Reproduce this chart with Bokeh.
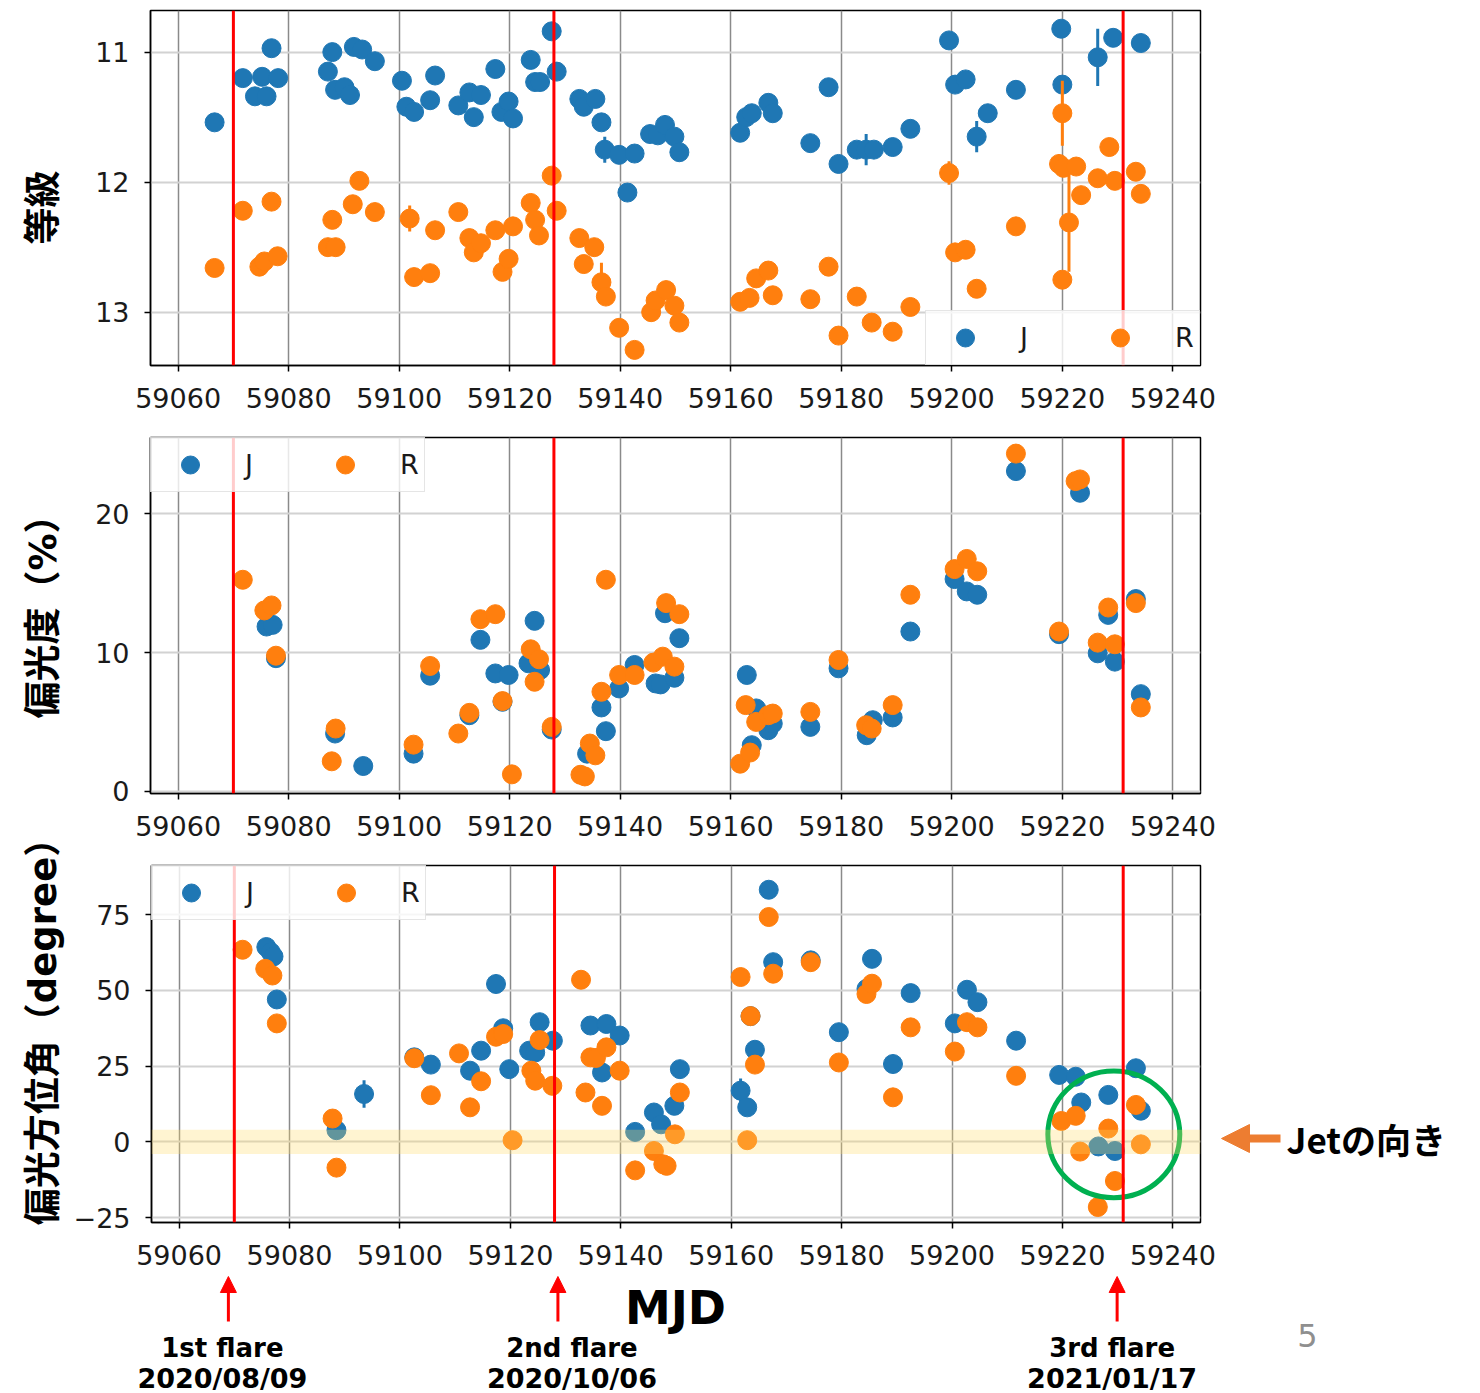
import numpy as np
from bokeh.plotting import figure
from bokeh.models import (Range1d, Span, BoxAnnotation, Legend, LegendItem, Label,
                          Arrow, NormalHead, FixedTicker, ColumnDataSource)
from bokeh.layouts import column, row
from bokeh.embed import file_html
from bokeh.resources import INLINE
from bokeh.core.properties import value

# ---------------- data ----------------
# Panel 1: magnitude
mag_J_mjd = [59066.6, 59071.7, 59073.9, 59075.2, 59076.0, 59076.9, 59078.1, 59087.1, 59087.9, 59088.4,
             59090.1, 59091.1, 59091.8, 59093.3, 59095.6, 59100.5, 59101.3, 59102.7, 59105.6, 59106.5,
             59110.7, 59112.7, 59113.5, 59114.8, 59117.4, 59118.5, 59119.8, 59120.6, 59123.8, 59124.6,
             59125.5, 59127.6, 59128.5, 59132.6, 59133.4, 59135.5, 59136.6, 59137.2, 59139.8, 59141.3,
             59142.6, 59145.4, 59146.8, 59148.1, 59149.8, 59150.7, 59161.7, 59162.8, 59163.8, 59166.8,
             59167.6, 59174.4, 59177.7, 59179.5, 59182.8, 59184.5, 59185.9, 59189.3, 59192.5, 59199.5,
             59200.6, 59202.5, 59204.5, 59206.5, 59211.6, 59219.8, 59220.0, 59226.4, 59229.2, 59234.2]
mag_J = [11.54, 11.20, 11.34, 11.19, 11.34, 10.97, 11.20, 11.15, 11.00, 11.29,
         11.27, 11.33, 10.96, 10.98, 11.07, 11.22, 11.42, 11.46, 11.37, 11.18,
         11.41, 11.31, 11.50, 11.33, 11.13, 11.46, 11.38, 11.51, 11.06, 11.23,
         11.23, 10.84, 11.15, 11.36, 11.42, 11.36, 11.54, 11.75, 11.79, 12.08,
         11.78, 11.63, 11.64, 11.56, 11.65, 11.77, 11.62, 11.50, 11.47, 11.39,
         11.47, 11.70, 11.27, 11.86, 11.75, 11.75, 11.75, 11.73, 11.59, 10.91,
         11.25, 11.21, 11.65, 11.47, 11.29, 10.82, 11.25, 11.04, 10.89, 10.93]
mag_J_err = [0.02] * 37 + [0.10] + [0.02] * 4 + [0.05] + [0.02] * 12 + [0.12] + [0.02] * 6 + [0.12] + [0.02] * 4 + [0.22] + [0.02] * 2

mag_R_mjd = [59066.6, 59071.7, 59074.7, 59075.6, 59076.9, 59078.0, 59087.1, 59087.9, 59088.5, 59091.6,
             59092.8, 59095.6, 59101.9, 59102.7, 59105.6, 59106.5, 59110.7, 59112.7, 59113.5, 59114.8,
             59117.4, 59118.7, 59119.8, 59120.6, 59123.8, 59124.6, 59125.3, 59127.6, 59128.5, 59132.6,
             59133.4, 59135.3, 59136.6, 59137.4, 59139.8, 59142.6, 59145.6, 59146.4, 59148.3, 59149.8,
             59150.7, 59161.7, 59163.4, 59164.6, 59166.8, 59167.6, 59174.4, 59177.7, 59179.5, 59182.8,
             59185.5, 59189.3, 59192.5, 59199.5, 59200.6, 59202.5, 59204.5, 59211.6, 59219.4, 59220.0,
             59220.0, 59220.2, 59221.2, 59222.5, 59223.4, 59226.4, 59228.5, 59229.5, 59233.3, 59234.2]
mag_R = [12.66, 12.22, 12.65, 12.61, 12.15, 12.57, 12.50, 12.29, 12.50, 12.17,
         11.99, 12.23, 12.28, 12.73, 12.70, 12.37, 12.23, 12.43, 12.54, 12.47,
         12.37, 12.69, 12.59, 12.34, 12.16, 12.29, 12.41, 11.95, 12.22, 12.43,
         12.63, 12.50, 12.77, 12.88, 13.12, 13.29, 13.00, 12.91, 12.83, 12.95,
         13.08, 12.92, 12.89, 12.74, 12.68, 12.87, 12.90, 12.65, 13.18, 12.88,
         13.08, 13.15, 12.96, 11.93, 12.54, 12.52, 12.82, 12.34, 11.86, 11.47,
         12.75, 11.89, 12.31, 11.88, 12.10, 11.97, 11.73, 11.99, 11.92, 12.09]
mag_R_err = ([0.02] * 12 + [0.10] + [0.02] * 19 + [0.15] + [0.02] * 20 + [0.09] + [0.02] * 3
             + [0.04] + [0.02] + [0.25] + [0.02] * 2 + [0.38] + [0.02] * 7)

# Panel 2: polarization degree (%)
pd_J_mjd = [59076.0, 59077.1, 59077.7, 59088.4, 59093.5, 59102.6, 59105.6, 59112.7, 59114.7, 59117.4,
            59118.7, 59119.8, 59123.4, 59124.5, 59125.5, 59127.6, 59134.0, 59136.6, 59137.4, 59139.8,
            59142.6, 59146.4, 59147.3, 59148.1, 59149.8, 59150.7, 59162.9, 59163.8, 59164.6, 59166.8,
            59167.6, 59174.4, 59179.5, 59184.6, 59185.7, 59189.3, 59192.5, 59200.5, 59202.7, 59204.6,
            59211.6, 59219.4, 59223.2, 59226.4, 59228.3, 59229.5, 59233.3, 59234.2]
pd_J = [11.88, 12.0, 9.6, 4.17, 1.83, 2.72, 8.34, 5.49, 10.92, 8.5,
        6.46, 8.39, 9.23, 12.29, 8.75, 4.46, 2.72, 6.05, 4.34, 7.42,
        9.11, 7.78, 7.71, 12.84, 8.19, 11.04, 8.39, 3.33, 5.98, 4.41,
        4.89, 4.65, 8.87, 4.05, 5.13, 5.33, 11.52, 15.3, 14.41, 14.17,
        23.08, 11.33, 21.52, 9.95, 12.72, 9.35, 13.86, 7.01]
pd_J_err = [0.15] * len(pd_J)

pd_R_mjd = [59071.7, 59075.6, 59076.9, 59077.7, 59087.8, 59088.5, 59102.6, 59105.6, 59110.7, 59112.7,
            59114.7, 59117.4, 59118.7, 59120.4, 59123.8, 59124.5, 59125.3, 59127.6, 59132.8, 59133.6,
            59134.5, 59135.5, 59136.6, 59137.4, 59139.8, 59142.6, 59146.0, 59147.7, 59148.3, 59149.8,
            59150.7, 59161.7, 59162.7, 59163.5, 59164.6, 59166.8, 59167.6, 59174.4, 59179.5, 59184.5,
            59185.5, 59189.3, 59192.5, 59200.5, 59202.7, 59204.6, 59211.6, 59219.4, 59222.4, 59223.2,
            59226.4, 59228.3, 59229.5, 59233.3, 59234.2]
pd_R = [15.25, 13.04, 13.4, 9.78, 2.17, 4.53, 3.37, 9.04, 4.17, 5.66,
        12.41, 12.77, 6.51, 1.23, 10.24, 7.9, 9.52, 4.65, 1.2, 1.08,
        3.45, 2.6, 7.18, 15.25, 8.39, 8.39, 9.28, 9.71, 13.57, 8.99,
        12.77, 2.0, 6.22, 2.8, 5.01, 5.49, 5.61, 5.73, 9.47, 4.77,
        4.53, 6.22, 14.17, 16.02, 16.75, 15.86, 24.34, 11.52, 22.36, 22.48,
        10.72, 13.25, 10.6, 13.57, 6.05]
pd_R_err = [0.15] * len(pd_R)

# Panel 3: polarization angle (degree)
pa_J_mjd = [59075.8, 59076.6, 59077.1, 59077.7, 59088.5, 59093.5, 59102.6, 59105.6, 59112.7, 59114.7,
            59117.4, 59118.7, 59119.8, 59123.4, 59124.5, 59125.3, 59127.7, 59134.5, 59136.6, 59137.4,
            59139.8, 59142.6, 59146.0, 59147.3, 59149.7, 59150.7, 59161.7, 59162.9, 59163.5, 59164.3,
            59166.8, 59167.6, 59174.4, 59179.5, 59184.5, 59185.5, 59189.3, 59192.5, 59200.5, 59202.7,
            59204.6, 59211.6, 59219.4, 59222.4, 59223.4, 59226.5, 59228.3, 59229.5, 59233.3, 59234.2]
pa_J = [64.3, 62.6, 61.2, 47.0, 3.86, 15.8, 27.9, 25.5, 23.5, 30.1,
        52.1, 37.5, 24.0, 30.1, 29.5, 39.5, 33.4, 38.4, 22.9, 38.9,
        35.1, 3.3, 9.7, 5.8, 11.9, 24.0, 16.9, 11.4, 41.5, 30.4,
        83.2, 59.3, 59.9, 36.2, 50.5, 60.4, 25.7, 49.1, 39.1, 50.2,
        46.1, 33.4, 22.1, 21.5, 13.0, -1.5, 15.5, -3.0, 24.3, 10.3]
pa_J_err = [0.8] * 5 + [4.5] + [0.8] * 20 + [4.0] + [0.8] * 23

pa_R_mjd = [59071.5, 59075.6, 59076.9, 59077.7, 59087.8, 59088.5, 59102.6, 59105.6, 59110.7, 59112.7,
            59114.7, 59117.4, 59118.7, 59120.4, 59123.8, 59124.5, 59125.3, 59127.6, 59132.8, 59133.6,
            59134.5, 59135.5, 59136.6, 59137.4, 59139.8, 59142.6, 59146.0, 59147.7, 59148.3, 59149.8,
            59150.7, 59161.7, 59162.9, 59163.5, 59164.3, 59166.8, 59167.6, 59174.4, 59179.5, 59184.5,
            59185.5, 59189.3, 59192.5, 59200.5, 59202.7, 59204.6, 59211.6, 59219.8, 59222.4, 59223.2,
            59226.4, 59228.3, 59229.5, 59233.3, 59234.2]
pa_R = [63.4, 57.1, 54.9, 39.1, 7.7, -8.5, 27.6, 15.4, 29.2, 11.4,
        20.0, 34.7, 35.6, 0.55, 23.5, 20.2, 33.6, 18.5, 53.5, 16.3,
        27.9, 27.7, 11.9, 31.2, 23.5, -9.4, -3.0, -7.4, -7.9, 2.5,
        16.3, 54.4, 0.55, 41.5, 25.5, 74.2, 55.5, 59.3, 26.2, 48.8,
        52.2, 14.7, 37.8, 29.8, 39.5, 37.8, 21.8, 6.9, 8.6, -3.2,
        -21.5, 4.4, -12.9, 12.2, -0.8]
pa_R_err = [0.8] * 19 + [3.0] + [0.8] * 35

flare_mjd = [59070, 59128, 59231]
flare_names = ["1st flare", "2nd flare", "3rd flare"]
flare_dates = ["2020/08/09", "2020/10/06", "2021/01/17"]
x_ticks = [59060, 59080, 59100, 59120, 59140, 59160, 59180, 59200, 59220, 59240]
y_titles = ["等級", "偏光度（%）", "偏光方位角（degree）"]

# ---------------- style / layout ----------------
BLUE = "#1f77b4"
ORANGE = "#ff7f0e"
X_START, X_END = 59055.0, 59245.0
PAGE_W, PAGE_H = 1480, 1393
LABEL_COL_W = 70              # column holding the rotated y titles
FRAME_L = 150                 # page x of the plot frames' left edge
FRAME_W = 1050
PPD = FRAME_W / (X_END - X_START)
TICK_FONT = "DejaVu Sans"
TITLE_FONT = "DejaVu Sans, Noto Sans CJK JP"
CJK = "Noto Sans CJK JP"

# page-pixel heights of the stacked figures
H1, H2, H3 = 420, 426, 429
H_BOTTOM = PAGE_H - H1 - H2 - H3
P3_PAGE_TOP = H1 + H2
P3_PAGE_BOTTOM = P3_PAGE_TOP + H3
P3_W = (FRAME_L - LABEL_COL_W) + FRAME_W + 20

x_range = Range1d(X_START, X_END)


def px_to_mjd(px):
    return X_START + (px - FRAME_L) / PPD


def make_panel(width, height, top, bottom, y_range, yticks):
    p = figure(width=width, height=height, x_range=x_range, y_range=y_range,
               output_backend="svg", toolbar_location=None,
               min_border_left=FRAME_L - LABEL_COL_W,
               min_border_right=width - (FRAME_L - LABEL_COL_W) - FRAME_W,
               min_border_top=top, min_border_bottom=bottom)
    p.xaxis.ticker = FixedTicker(ticks=x_ticks)
    p.yaxis.ticker = FixedTicker(ticks=yticks)
    for ax in (p.xaxis[0], p.yaxis[0]):
        ax.major_label_text_font = TICK_FONT
        ax.major_label_text_font_size = "27px"
        ax.major_label_text_color = "#1a1a1a"
        ax.major_tick_out = 6
        ax.major_tick_in = 0
        ax.minor_tick_out = 0
        ax.minor_tick_in = 0
        ax.axis_line_color = "black"
        ax.axis_line_width = 1.5
        ax.major_tick_line_color = "black"
        ax.major_tick_line_width = 1.5
    p.xaxis.major_label_standoff = 16
    p.yaxis.major_label_standoff = 15
    p.outline_line_color = "black"
    p.outline_line_width = 1.5
    p.outline_line_alpha = 1.0
    p.xgrid.grid_line_color = "#8a8a8a"
    p.xgrid.grid_line_width = 1.5
    p.ygrid.grid_line_color = "#d2d2d2"
    p.ygrid.grid_line_width = 2
    return p


def add_series(p, mjd, val, err, color):
    v = np.array(val, dtype=float)
    e = np.array(err, dtype=float)
    src = ColumnDataSource(dict(x=mjd, y=v, lo=v - e, hi=v + e))
    p.segment(x0="x", y0="lo", x1="x", y1="hi", source=src, line_color=color, line_width=3)
    return p.scatter(x="x", y="y", source=src, size=19, fill_color=color, line_color=color, line_width=1)


def add_flares(p):
    for f in flare_mjd:
        p.add_layout(Span(location=f, dimension="height", line_color="red", line_width=3))


def add_legend(p, rJ, rR, loc):
    leg = Legend(items=[LegendItem(label="J", renderers=[rJ]), LegendItem(label="R", renderers=[rR])],
                 location=loc, orientation="horizontal", margin=0, padding=4,
                 glyph_width=70, glyph_height=45, label_standoff=20, spacing=45,
                 label_text_font=TICK_FONT, label_text_font_size="27px", label_text_color="#1a1a1a",
                 border_line_color="#cccccc", border_line_width=1.5,
                 background_fill_color="white", background_fill_alpha=0.8)
    p.add_layout(leg)


def blank_fig(width, height, xr, yr):
    f = figure(width=width, height=height, x_range=xr, y_range=yr,
               output_backend="svg", toolbar_location=None,
               x_axis_type=None, y_axis_type=None, min_border=0,
               min_border_left=0, min_border_right=0, min_border_top=0, min_border_bottom=0)
    f.frame_align = False
    f.outline_line_color = None
    f.xgrid.visible = False
    f.ygrid.visible = False
    return f


PANEL_W = PAGE_W - LABEL_COL_W

# Panel 1
p1 = make_panel(PANEL_W, H1, 10, 55, Range1d(13.41, 10.68), [11, 12, 13])
rJ1 = add_series(p1, mag_J_mjd, mag_J, mag_J_err, BLUE)
rR1 = add_series(p1, mag_R_mjd, mag_R, mag_R_err, ORANGE)
add_flares(p1)
add_legend(p1, rJ1, rR1, "bottom_right")

# Panel 2
p2 = make_panel(PANEL_W, H2, 17, 53, Range1d(-0.15, 25.5), [0, 10, 20])
rJ2 = add_series(p2, pd_J_mjd, pd_J, pd_J_err, BLUE)
rR2 = add_series(p2, pd_R_mjd, pd_R, pd_R_err, ORANGE)
add_flares(p2)
add_legend(p2, rJ2, rR2, "top_left")

# Panel 3
PA_LO, PA_HI = -26.6, 91.2
p3 = make_panel(P3_W, H3, 19, 53, Range1d(PA_LO, PA_HI), [-25, 0, 25, 50, 75])
p3.yaxis.major_label_overrides = {-25: "−25"}
p3.add_layout(BoxAnnotation(bottom=-4, top=4, fill_color="#ffd966", fill_alpha=0.3, line_color=None))
rJ3 = add_series(p3, pa_J_mjd, pa_J, pa_J_err, BLUE)
rR3 = add_series(p3, pa_R_mjd, pa_R, pa_R_err, ORANGE)
add_flares(p3)
add_legend(p3, rJ3, rR3, "top_left")

# green circle around the 3rd-flare angles
CIRCLE_X, CIRCLE_Y, CIRCLE_W, CIRCLE_H = 59229.3, 2.5, 23.9, 41.9
p3.ellipse(x=[CIRCLE_X], y=[CIRCLE_Y], width=[CIRCLE_W], height=[CIRCLE_H],
           fill_color=None, line_color="#00b050", line_width=5)

# ---- right of panel 3: jet direction arrow and text (page-pixel coordinates) ----
JET_W = PAGE_W - LABEL_COL_W - P3_W
JET_X0 = LABEL_COL_W + P3_W
jet = blank_fig(JET_W, H3, Range1d(JET_X0, PAGE_W), Range1d(0, H3))
JET_Y = P3_PAGE_BOTTOM - 1138
jet.add_layout(Arrow(end=NormalHead(size=28, fill_color="#ed7d31", line_color="#ed7d31"),
                     x_start=1280, y_start=JET_Y, x_end=JET_X0 + 1, y_end=JET_Y,
                     line_color="#ed7d31", line_width=8))
jet.add_layout(Label(x=1286, y=JET_Y, text="Jetの向き", text_align="left", text_baseline="middle",
                     text_font=CJK, text_font_style="bold", text_font_size="35px", text_color="black"))

# ---- below panel 3: MJD title, flare arrows and labels ----
bottom = blank_fig(PANEL_W, H_BOTTOM, Range1d(px_to_mjd(LABEL_COL_W), px_to_mjd(PAGE_W)),
                   Range1d(0, H_BOTTOM))


def by(page_y):
    return PAGE_H - page_y


bottom.add_layout(Label(x=(X_START + X_END) / 2, y=by(1307), text="MJD", text_align="center",
                        text_baseline="middle", text_font=TICK_FONT, text_font_style="bold",
                        text_font_size="46px", text_color="black"))
ARROW_DX = [-5, 4, -6]
LABEL_DX = [-11, 18, -11]
for f, name, date, adx, ldx in zip(flare_mjd, flare_names, flare_dates, ARROW_DX, LABEL_DX):
    xa = f + adx / PPD
    bottom.add_layout(Arrow(end=NormalHead(size=16, fill_color="red", line_color="red"),
                            x_start=xa, y_start=by(1321), x_end=xa, y_end=by(P3_PAGE_BOTTOM + 1),
                            line_color="red", line_width=3))
    xl = f + ldx / PPD
    bottom.add_layout(Label(x=xl, y=by(1347), text=name, text_align="center", text_baseline="middle",
                            text_font=TICK_FONT, text_font_style="bold", text_font_size="26px",
                            text_color="black"))
    bottom.add_layout(Label(x=xl, y=by(1378), text=date, text_align="center", text_baseline="middle",
                            text_font=TICK_FONT, text_font_style="bold", text_font_size="27px",
                            text_color="black"))
bottom.add_layout(Label(x=px_to_mjd(1307), y=by(1335), text="5", text_align="center",
                        text_baseline="middle", text_font=TICK_FONT, text_font_size="32px",
                        text_color="#8f8f8f"))

# ---- left column: rotated y-axis titles (page-pixel coordinates) ----
labels_fig = blank_fig(LABEL_COL_W, PAGE_H, Range1d(0, LABEL_COL_W), Range1d(0, PAGE_H))
TITLE_PAGE_Y = [207, 607, 1022]
labels_fig.text(x=[43, 43, 43], y=[PAGE_H - v for v in TITLE_PAGE_Y], text=y_titles,
                angle=np.pi / 2, text_align="center", text_baseline="middle",
                text_font=value(TITLE_FONT), text_font_style="bold", text_font_size="37px",
                text_color="black")

layout = row(labels_fig, column(p1, p2, row(p3, jet, spacing=0), bottom, spacing=0), spacing=0)
open("out.html", "w").write(file_html(layout, INLINE))
